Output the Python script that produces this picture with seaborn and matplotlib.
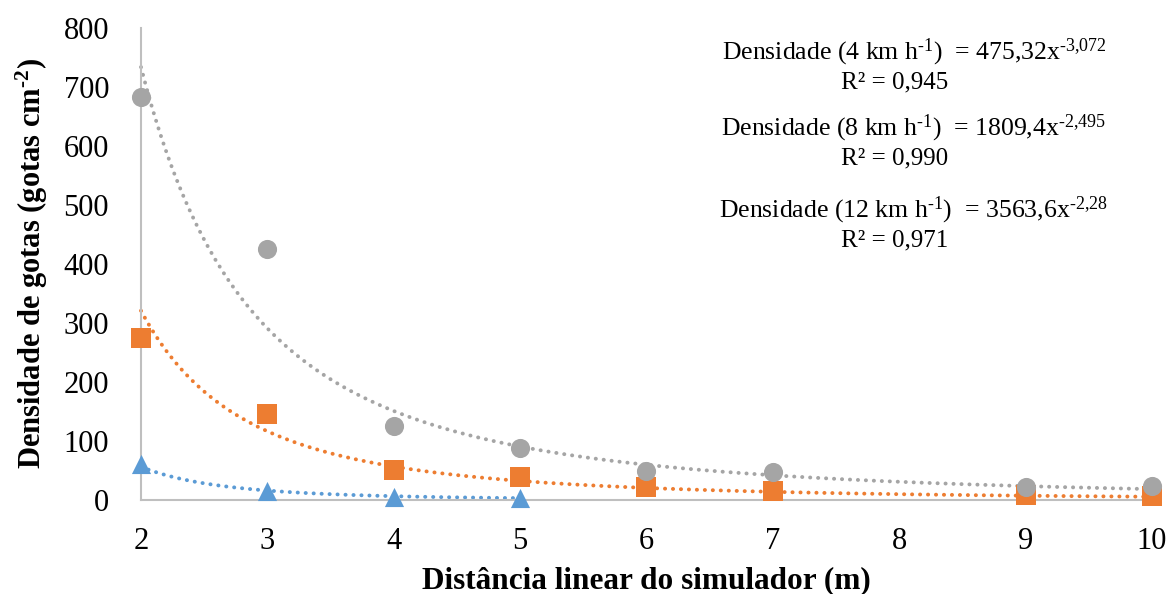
import numpy as np
import pandas as pd
import matplotlib
matplotlib.use("Agg")
import matplotlib.pyplot as plt
import seaborn as sns

# Measured droplet density by distance from the simulator
dist_4 = [2, 3, 4, 5]
dens_4 = [62, 15, 6, 4]
dist_8 = [2, 3, 4, 5, 6, 7, 9, 10]
dens_8 = [275, 146, 51, 39, 22, 15, 8, 7]
dist_12 = [2, 3, 4, 5, 6, 7, 9, 10]
dens_12 = [683, 425, 125, 88, 49, 47, 22, 24]

# Power-law fits: y = a * x^b
fit_a = [475.32, 1809.4, 3563.6]
fit_b = [-3.072, -2.495, -2.28]
fit_a_txt = ["475,32", "1809,4", "3563,6"]
fit_b_txt = ["-3,072", "-2,495", "-2,28"]
fit_r2 = ["0,945", "0,990", "0,971"]
fit_xmax = [5, 10, 10]
speeds = ["4", "8", "12"]

colors = ["#5B9BD5", "#ED7D31", "#A5A5A5"]
markers = ["^", "s", "o"]

sns.set_theme(style="white")
plt.rcParams["font.family"] = ["Liberation Serif", "DejaVu Serif"]
plt.rcParams["text.color"] = "black"
plt.rcParams["axes.labelcolor"] = "black"
plt.rcParams["mathtext.fontset"] = "custom"
plt.rcParams["mathtext.rm"] = "Liberation Serif"
plt.rcParams["mathtext.it"] = "Liberation Serif:italic"
plt.rcParams["mathtext.bf"] = "Liberation Serif:bold"

fig = plt.figure(figsize=(11.68, 5.94), dpi=100)
ax = fig.add_axes([0.1207, 0.158, 0.8655, 0.795])

series = [(dist_4, dens_4), (dist_8, dens_8), (dist_12, dens_12)]
for i, (xs, ys) in enumerate(series):
    xf = np.linspace(2, fit_xmax[i], 300)
    trend = pd.DataFrame({"x": xf, "y": fit_a[i] * xf ** fit_b[i]})
    sns.lineplot(data=trend, x="x", y="y", ax=ax, color=colors[i],
                 linewidth=2.8, linestyle=(0, (0.05, 2.0)),
                 dash_capstyle="round", solid_capstyle="round",
                 clip_on=False, zorder=2)

for i, (xs, ys) in enumerate(series):
    pts = pd.DataFrame({"x": xs, "y": ys})
    sns.scatterplot(data=pts, x="x", y="y", ax=ax, color=colors[i],
                    marker=markers[i], s=190, linewidth=0,
                    clip_on=False, zorder=3)

ax.set_xlim(2, 10)
ax.set_ylim(0, 800)
ax.set_xticks(range(2, 11))
ax.set_yticks(range(0, 801, 100))
ax.tick_params(axis="both", labelsize=22, labelcolor="black", length=8,
               width=1.2, direction="out", color="#BFBFBF")
ax.tick_params(axis="x", pad=11)
ax.tick_params(axis="y", pad=15)

for side in ["top", "right"]:
    ax.spines[side].set_visible(False)
for side in ["left", "bottom"]:
    ax.spines[side].set_color("#BFBFBF")
    ax.spines[side].set_linewidth(1.5)

ax.set_xlabel("Distância linear do simulador (m)", fontsize=22.5,
              fontweight="bold", labelpad=8)
ax.set_ylabel("Densidade de gotas (gotas cm$^{\\mathbf{\u20102}}$)",
              fontsize=22, fontweight="bold", labelpad=10)

eq_y = [52, 128, 210]
for i in range(3):
    eq = ("Densidade (%s km h$^{\\text{-1}}$)  = %sx$^{\\text{%s}}$"
          % (speeds[i], fit_a_txt[i], fit_b_txt[i]))
    fig.text(914 / 1168, 1 - eq_y[i] / 594, eq, ha="center", va="center",
             fontsize=18.5)
    fig.text(895 / 1168, 1 - (eq_y[i] + 30) / 594, "R² = " + fit_r2[i],
             ha="center", va="center", fontsize=18)

fig.savefig("out.png", dpi=100)
